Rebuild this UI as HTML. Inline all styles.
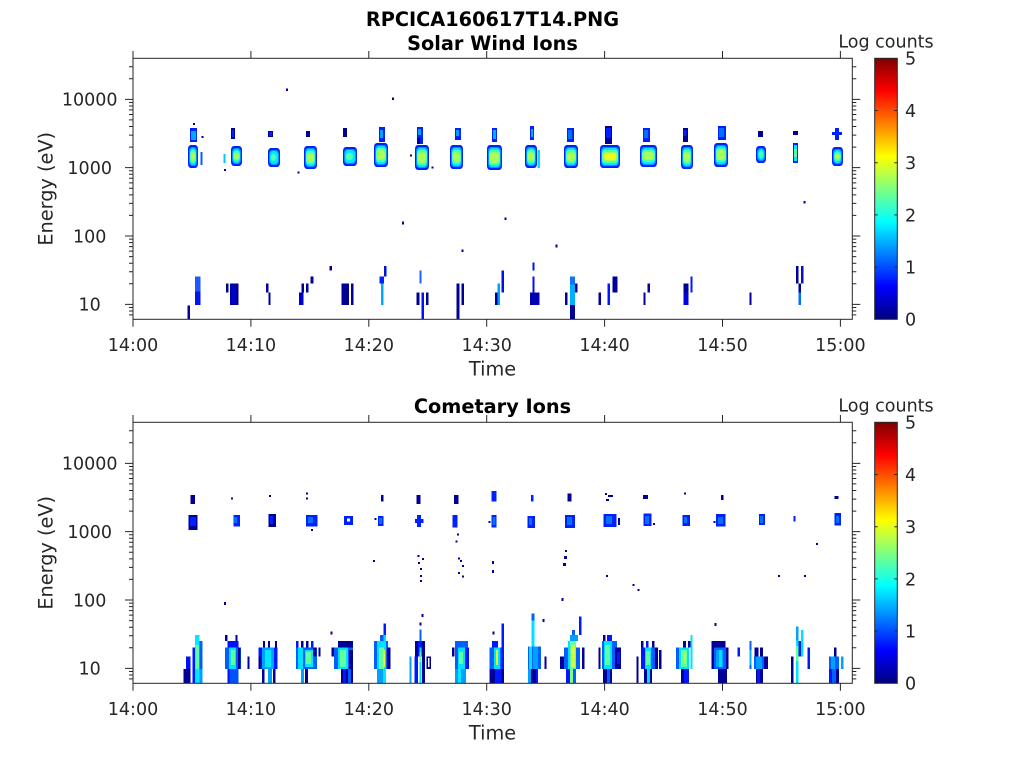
<!DOCTYPE html>
<html>
<head>
<meta charset="utf-8">
<style>
html,body{margin:0;padding:0;background:#fff;}
svg{display:block;}
text{font-family:"DejaVu Sans","Liberation Sans",sans-serif;}
g.rb rect{rx:3px;ry:4px;}
</style>
</head>
<body>
<svg width="1024" height="768" viewBox="0 0 1024 768" xmlns="http://www.w3.org/2000/svg">
<defs>
<linearGradient id="jet" x1="0" y1="1" x2="0" y2="0">
<stop offset="0" stop-color="#000080"/>
<stop offset="0.125" stop-color="#0000ff"/>
<stop offset="0.375" stop-color="#00ffff"/>
<stop offset="0.625" stop-color="#ffff00"/>
<stop offset="0.875" stop-color="#ff0000"/>
<stop offset="1" stop-color="#800000"/>
</linearGradient>
</defs>
<rect width="1024" height="768" fill="#fff"/>

<!-- ============ TOP PANEL DATA ============ -->
<g class="rb">
<rect x="188" y="145" width="10" height="23" fill="#0020ff"/><rect x="189" y="147" width="8" height="19" fill="#0090ff"/><rect x="190" y="148" width="6" height="17" fill="#00e8ff"/><rect x="190" y="150" width="6" height="13" fill="#50ffb0"/><rect x="191" y="152" width="4" height="9" fill="#a8ff58"/>
<rect x="231" y="146" width="11" height="20" fill="#0020ff"/><rect x="232" y="148" width="9" height="16" fill="#0090ff"/><rect x="233" y="149" width="7" height="14" fill="#00e8ff"/><rect x="233" y="151" width="7" height="10" fill="#50ffb0"/><rect x="234" y="153" width="5" height="6" fill="#a8ff58"/>
<rect x="268" y="148" width="12" height="19" fill="#0020ff"/><rect x="269" y="150" width="10" height="15" fill="#0090ff"/><rect x="270" y="151" width="8" height="13" fill="#00e8ff"/><rect x="271" y="154" width="5" height="7" fill="#50ffb0"/>
<rect x="304" y="146" width="13" height="23" fill="#0020ff"/><rect x="305" y="148" width="11" height="19" fill="#0090ff"/><rect x="306" y="149" width="9" height="17" fill="#00e8ff"/><rect x="306" y="151" width="9" height="13" fill="#50ffb0"/><rect x="307" y="153" width="7" height="9" fill="#a8ff58"/>
<rect x="343" y="147" width="14" height="19" fill="#0020ff"/><rect x="344" y="149" width="12" height="15" fill="#0090ff"/><rect x="345" y="150" width="10" height="13" fill="#00e8ff"/><rect x="346" y="153" width="7" height="7" fill="#50ffb0"/>
<rect x="374" y="143" width="14" height="24" fill="#0020ff"/><rect x="375" y="145" width="12" height="20" fill="#0090ff"/><rect x="376" y="146" width="10" height="18" fill="#00e8ff"/><rect x="376" y="148" width="10" height="14" fill="#50ffb0"/><rect x="377" y="150" width="8" height="10" fill="#a8ff58"/>
<rect x="415" y="145" width="14" height="25" fill="#0020ff"/><rect x="416" y="147" width="12" height="21" fill="#0090ff"/><rect x="417" y="148" width="10" height="19" fill="#00e8ff"/><rect x="417" y="150" width="10" height="15" fill="#50ffb0"/><rect x="418" y="152" width="8" height="11" fill="#a8ff58"/>
<rect x="450" y="145" width="13" height="24" fill="#0020ff"/><rect x="451" y="147" width="11" height="20" fill="#0090ff"/><rect x="452" y="148" width="9" height="18" fill="#00e8ff"/><rect x="452" y="150" width="9" height="14" fill="#50ffb0"/><rect x="453" y="152" width="7" height="10" fill="#a8ff58"/>
<rect x="487" y="145" width="15" height="25" fill="#0020ff"/><rect x="488" y="147" width="13" height="21" fill="#0090ff"/><rect x="489" y="148" width="11" height="19" fill="#00e8ff"/><rect x="489" y="150" width="11" height="15" fill="#50ffb0"/><rect x="490" y="152" width="9" height="11" fill="#a8ff58"/>
<rect x="525" y="145" width="12" height="23" fill="#0020ff"/><rect x="526" y="147" width="10" height="19" fill="#0090ff"/><rect x="527" y="148" width="8" height="17" fill="#00e8ff"/><rect x="527" y="150" width="8" height="13" fill="#50ffb0"/><rect x="528" y="152" width="6" height="9" fill="#a8ff58"/>
<rect x="564" y="145" width="14" height="23" fill="#0020ff"/><rect x="565" y="147" width="12" height="19" fill="#0090ff"/><rect x="566" y="148" width="10" height="17" fill="#00e8ff"/><rect x="566" y="150" width="10" height="13" fill="#50ffb0"/><rect x="567" y="152" width="8" height="9" fill="#a8ff58"/>
<rect x="600" y="145" width="20" height="23" fill="#0020ff"/><rect x="601" y="147" width="18" height="19" fill="#0090ff"/><rect x="602" y="148" width="16" height="17" fill="#00e8ff"/><rect x="602" y="150" width="16" height="13" fill="#50ffb0"/><rect x="603" y="152" width="14" height="9" fill="#a8ff58"/><rect x="604" y="153" width="12" height="7" fill="#e8ff20"/>
<rect x="640" y="145" width="17" height="22" fill="#0020ff"/><rect x="641" y="147" width="15" height="18" fill="#0090ff"/><rect x="642" y="148" width="13" height="16" fill="#00e8ff"/><rect x="642" y="150" width="13" height="12" fill="#50ffb0"/><rect x="643" y="152" width="11" height="8" fill="#a8ff58"/>
<rect x="681" y="145" width="12" height="24" fill="#0020ff"/><rect x="682" y="147" width="10" height="20" fill="#0090ff"/><rect x="683" y="148" width="8" height="18" fill="#00e8ff"/><rect x="683" y="150" width="8" height="14" fill="#50ffb0"/><rect x="684" y="152" width="6" height="10" fill="#a8ff58"/>
<rect x="714" y="143" width="14" height="24" fill="#0020ff"/><rect x="715" y="145" width="12" height="20" fill="#0090ff"/><rect x="716" y="146" width="10" height="18" fill="#00e8ff"/><rect x="716" y="148" width="10" height="14" fill="#50ffb0"/><rect x="717" y="150" width="8" height="10" fill="#a8ff58"/>
<rect x="756" y="146" width="10" height="17" fill="#0020ff"/><rect x="757" y="148" width="8" height="13" fill="#0090ff"/><rect x="758" y="149" width="6" height="11" fill="#00e8ff"/><rect x="759" y="151" width="4" height="7" fill="#50ffb0"/>
<rect x="832" y="147" width="11" height="19" fill="#0020ff"/><rect x="833" y="149" width="9" height="15" fill="#0090ff"/><rect x="834" y="150" width="7" height="13" fill="#00e8ff"/><rect x="834" y="152" width="7" height="9" fill="#50ffb0"/><rect x="835" y="154" width="5" height="5" fill="#a8ff58"/>
</g>
<g shape-rendering="crispEdges">
<rect x="200.7" y="152" width="2" height="13" fill="#0060ff"/>
<rect x="223.3" y="154" width="2.4" height="9" fill="#00c8ff"/>
<rect x="537.5" y="150" width="2.5" height="18" fill="#00e0ff"/>
<rect x="793" y="143" width="5" height="20" fill="#0020ff"/><rect x="794" y="145" width="3" height="16" fill="#00e8ff"/><rect x="794" y="149" width="3" height="8" fill="#50ffb0"/>
<!-- upper blobs -->
<rect x="190" y="128" width="7" height="14" fill="#0020ff"/><rect x="191" y="131" width="5" height="9" fill="#00a8ff"/>
<rect x="231" y="128" width="4" height="11" fill="#000096"/><rect x="232" y="130" width="2" height="7" fill="#0020ff"/>
<rect x="268" y="131" width="5" height="6" fill="#000096"/><rect x="269" y="132" width="3" height="4" fill="#0020ff"/>
<rect x="306" y="131" width="4" height="6" fill="#000096"/>
<rect x="343" y="128" width="4" height="9" fill="#000096"/>
<rect x="379" y="127" width="6" height="15" fill="#0020ff"/><rect x="380" y="130" width="3" height="8" fill="#00a0ff"/>
<rect x="417" y="127" width="6" height="17" fill="#0020ff"/><rect x="418" y="129" width="3" height="6" fill="#00a0ff"/><rect x="417" y="138" width="3" height="6" fill="#000096"/>
<rect x="455" y="128" width="6" height="12" fill="#0020ff"/><rect x="456" y="130" width="3" height="6" fill="#00a0ff"/>
<rect x="492" y="128" width="5" height="14" fill="#0020ff"/><rect x="493" y="130" width="3" height="9" fill="#00b0ff"/>
<rect x="530" y="126" width="4" height="14" fill="#0020ff"/><rect x="531" y="129" width="2" height="8" fill="#00b0ff"/>
<rect x="567" y="128" width="7" height="14" fill="#0020ff"/><rect x="568" y="130" width="4" height="9" fill="#0070ff"/>
<rect x="605" y="126" width="7" height="18" fill="#000096"/><rect x="606" y="128" width="5" height="10" fill="#0020ff"/>
<rect x="643" y="128" width="7" height="14" fill="#0020ff"/><rect x="644" y="130" width="4" height="8" fill="#0070ff"/>
<rect x="683" y="128" width="5" height="14" fill="#000096"/><rect x="683.5" y="130" width="3" height="6" fill="#0020ff"/>
<rect x="718" y="126" width="8" height="14" fill="#0020ff"/><rect x="719" y="128" width="5" height="9" fill="#0070ff"/>
<rect x="758" y="131" width="5" height="6" fill="#000096"/>
<rect x="793" y="131" width="5" height="4" fill="#000096"/>
<rect x="832" y="132" width="10" height="3" fill="#0020ff"/><rect x="835" y="128" width="4" height="12" fill="#0020ff"/>
<!-- dots -->
<g fill="#000096">
<rect x="193" y="123" width="2" height="2"/><rect x="201.7" y="136" width="2" height="2"/><rect x="286" y="88.5" width="2" height="2.5"/><rect x="392" y="97.5" width="2" height="2.5"/><rect x="224" y="169" width="2" height="2"/><rect x="297.7" y="171.5" width="2" height="2"/><rect x="410" y="154.5" width="2" height="2"/><rect x="431.7" y="166.5" width="2" height="2"/><rect x="402" y="221.5" width="2" height="3"/><rect x="504.5" y="217.5" width="2" height="2.5"/><rect x="461.5" y="249.5" width="2" height="2.5"/><rect x="555.5" y="244.5" width="2" height="3"/><rect x="803.5" y="201" width="2" height="2.5"/>
</g>
<!-- low energy -->
<rect x="187.7" y="305.7" width="2.3" height="13.6" fill="#000096"/>
<rect x="195" y="276.7" width="5.7" height="15" fill="#2058ff"/><rect x="195" y="291.7" width="5.7" height="13.3" fill="#0018f0"/>
<rect x="226" y="283.3" width="2.3" height="9" fill="#000096"/>
<rect x="230" y="283.3" width="8.3" height="21.7" fill="#000096"/><rect x="231.5" y="285" width="4.5" height="19" fill="#0000d0"/>
<rect x="266" y="283.3" width="2.3" height="9" fill="#000096"/><rect x="268.3" y="292.3" width="2.4" height="12.7" fill="#000096"/>
<rect x="299" y="292.3" width="4.3" height="12.7" fill="#0000c8"/><rect x="301.7" y="283.3" width="2.3" height="9" fill="#000096"/><rect x="306" y="283.3" width="2.3" height="9" fill="#000096"/><rect x="310.7" y="276.7" width="2.6" height="6.6" fill="#000096"/>
<rect x="329.3" y="266" width="2.7" height="4.7" fill="#000096"/>
<rect x="341.7" y="283.3" width="7.3" height="21.7" fill="#000096"/><rect x="351" y="283.3" width="2.3" height="21.7" fill="#000096"/>
<rect x="379.3" y="276.7" width="4.7" height="6.6" fill="#0020ff"/><rect x="381" y="283.3" width="2.7" height="21.7" fill="#00a8ff"/><rect x="384" y="266" width="2.7" height="10.7" fill="#0010e0"/>
<rect x="419.3" y="270.7" width="2.4" height="12.6" fill="#2060ff"/>
<rect x="416.7" y="292.3" width="2.6" height="12.7" fill="#000096"/><rect x="421.7" y="292.3" width="2.3" height="26.7" fill="#0010ff"/><rect x="426" y="292.3" width="2.3" height="12.7" fill="#000096"/>
<rect x="456.7" y="283.3" width="2.6" height="35.7" fill="#000096"/><rect x="461.7" y="283.3" width="2.3" height="21.7" fill="#000096"/>
<rect x="495" y="292.3" width="2.3" height="12.7" fill="#000096"/><rect x="497.3" y="283.3" width="2.7" height="21.7" fill="#00a0ff"/><rect x="501.7" y="270.7" width="2.3" height="21.6" fill="#0010e0"/>
<rect x="532.3" y="262.3" width="2" height="8.4" fill="#0010ff"/><rect x="532.3" y="276.7" width="2" height="15.6" fill="#0010ff"/><rect x="530" y="292.3" width="9.3" height="12.7" fill="#0000b0"/>
<rect x="565" y="292.3" width="2.7" height="12.7" fill="#000096"/><rect x="570" y="276.7" width="5" height="8" fill="#1070ff"/><rect x="570" y="284.7" width="5" height="20.3" fill="#00b0ff"/><rect x="570" y="305" width="5" height="14.3" fill="#000096"/><rect x="575" y="283.3" width="2.3" height="9" fill="#000096"/>
<rect x="598.3" y="292.3" width="2.7" height="12.7" fill="#000096"/>
<rect x="607.7" y="283.3" width="2.3" height="21.7" fill="#0018ff"/><rect x="612.3" y="276.7" width="5" height="15.6" fill="#000096"/>
<rect x="643.3" y="292.3" width="2.4" height="12.7" fill="#000096"/><rect x="647.7" y="283.3" width="2.3" height="9" fill="#000096"/>
<rect x="683.3" y="283.3" width="5" height="9" fill="#000096"/><rect x="683.3" y="292.3" width="5" height="12.7" fill="#0000e0"/><rect x="690.3" y="276.7" width="2.4" height="15.6" fill="#0018ff"/>
<rect x="749.3" y="292.3" width="2.4" height="12.7" fill="#000096"/>
<rect x="796" y="266" width="2.3" height="17.3" fill="#000096"/><rect x="801" y="266" width="2.3" height="17.3" fill="#0010c0"/><rect x="798.3" y="283.3" width="2.7" height="9" fill="#000096"/><rect x="798.3" y="292.3" width="2.7" height="12.7" fill="#0070ff"/>
</g>

<!-- ============ BOTTOM PANEL DATA ============ -->
<g shape-rendering="crispEdges">
<rect x="190.7" y="495" width="4.3" height="9" fill="#000096"/><rect x="188.3" y="515" width="9" height="15" fill="#000096"/><rect x="190" y="517" width="6" height="9" fill="#0020ff"/>
<rect x="233.3" y="515" width="6.7" height="11.7" fill="#0020ff"/><rect x="234" y="517" width="3" height="6" fill="#0070ff"/>
<rect x="268.3" y="514" width="7.7" height="13" fill="#000096"/><rect x="270" y="516" width="3" height="8" fill="#0020ff"/>
<rect x="306" y="515" width="11.3" height="11.7" fill="#0020ff"/><rect x="308" y="517" width="5" height="6" fill="#0070ff"/>
<rect x="344" y="516" width="9" height="9" fill="#0020ff"/><rect x="347" y="518.5" width="3" height="3" fill="#fff"/>
<rect x="381" y="495" width="2.3" height="6.7" fill="#000096"/><rect x="378" y="516" width="5.3" height="10" fill="#0020ff"/><rect x="379" y="518" width="3" height="6" fill="#0070ff"/>
<rect x="416.7" y="495" width="4" height="9" fill="#000096"/><rect x="415" y="519" width="8.3" height="4" fill="#0020ff"/><rect x="417" y="515" width="4" height="12" fill="#0020ff"/>
<rect x="454" y="495" width="4.7" height="9" fill="#000096"/><rect x="452.7" y="515" width="4.6" height="12.3" fill="#0020ff"/>
<rect x="491.7" y="491" width="5" height="10.7" fill="#0020ff"/><rect x="491.7" y="515" width="5" height="12.3" fill="#0020ff"/><rect x="492.5" y="517" width="3" height="8" fill="#0070ff"/>
<rect x="531" y="495" width="2.3" height="6.7" fill="#0020ff"/><rect x="527.7" y="516" width="7.3" height="12" fill="#0020ff"/><rect x="529" y="518" width="3" height="7" fill="#0070ff"/>
<rect x="567.7" y="493.3" width="4" height="8.3" fill="#000096"/><rect x="565" y="515" width="10" height="13" fill="#0020ff"/><rect x="567" y="517" width="5" height="8" fill="#0070ff"/>
<rect x="603.3" y="514" width="13" height="13" fill="#0020ff"/><rect x="606" y="516" width="6" height="8" fill="#0070ff"/><rect x="618" y="518" width="2" height="7" fill="#000096"/>
<rect x="643" y="495" width="5" height="4" fill="#000096"/><rect x="643.3" y="513.3" width="8" height="12.7" fill="#0020ff"/><rect x="645" y="516" width="4" height="8" fill="#0070ff"/>
<rect x="682.7" y="515" width="7.3" height="11" fill="#0020ff"/><rect x="684" y="517" width="3" height="6" fill="#0070ff"/>
<rect x="721" y="495" width="2.3" height="5" fill="#000096"/><rect x="716" y="514" width="9.7" height="12.7" fill="#0020ff"/><rect x="718" y="517" width="5" height="7" fill="#0070ff"/>
<rect x="759" y="514" width="6" height="11" fill="#0020ff"/><rect x="760" y="516" width="3" height="7" fill="#0070ff"/>
<rect x="793.3" y="516" width="2.4" height="5.7" fill="#0020ff"/>
<rect x="834.3" y="496" width="4" height="3" fill="#000096"/><rect x="834.3" y="513" width="6.7" height="12.7" fill="#0020ff"/><rect x="836" y="516" width="3" height="7" fill="#0070ff"/>
<g fill="#000096">
<rect x="231" y="497.5" width="2" height="2"/><rect x="269" y="495" width="2" height="2"/><rect x="306" y="492.5" width="2" height="2"/><rect x="306" y="497.5" width="2" height="2"/><rect x="311" y="529" width="2" height="2"/><rect x="374.7" y="518" width="2" height="2"/><rect x="373" y="560" width="2" height="2"/>
<rect x="417.5" y="555" width="2" height="2"/><rect x="422" y="558" width="2" height="2"/><rect x="418" y="562" width="2" height="2"/><rect x="420" y="568" width="2" height="2"/><rect x="420" y="575" width="2" height="2"/><rect x="420" y="580" width="2" height="2"/>
<rect x="457" y="533.5" width="2" height="2"/><rect x="455.5" y="540.5" width="2" height="2"/><rect x="458" y="557.5" width="2" height="2"/><rect x="460" y="560" width="2" height="2"/><rect x="462" y="565" width="2" height="2"/><rect x="458" y="572" width="2" height="2"/><rect x="462" y="575.5" width="2" height="2"/>
<rect x="488.3" y="521" width="2" height="2"/><rect x="492" y="561" width="2" height="3"/><rect x="492" y="570" width="2" height="3"/>
<rect x="605" y="493" width="2" height="2"/><rect x="608" y="495" width="5" height="2"/><rect x="606" y="499" width="3" height="2"/>
<rect x="565" y="550" width="2" height="2"/><rect x="564" y="556" width="3" height="3"/><rect x="563" y="563" width="3" height="3"/>
<rect x="653" y="523" width="2" height="2"/><rect x="684" y="492.5" width="2" height="2"/><rect x="713.3" y="521" width="2" height="2"/>
<rect x="816" y="543" width="2" height="2"/><rect x="778" y="575" width="2" height="2"/><rect x="804" y="575" width="2" height="2"/><rect x="606" y="575" width="2" height="2"/><rect x="632.7" y="584" width="2" height="2"/><rect x="637.3" y="589" width="2" height="2"/>
<rect x="224" y="602" width="2" height="3"/><rect x="330.7" y="631.5" width="2" height="3"/><rect x="492.7" y="631.5" width="2" height="3"/><rect x="421.7" y="614" width="2" height="3"/><rect x="419.3" y="622.5" width="2" height="3"/><rect x="542.7" y="619" width="2" height="3"/><rect x="561.7" y="598" width="2" height="3"/><rect x="714.5" y="623" width="2" height="3"/>
</g>
<!-- C1 -->
<rect x="183.3" y="669" width="2.7" height="14.3" fill="#000096"/>
<rect x="186" y="656.7" width="4.7" height="12.3" fill="#0010ff"/><rect x="186" y="669" width="4.7" height="14.3" fill="#000096"/>
<rect x="192.7" y="647.7" width="2.3" height="35.6" fill="#0018ff"/>
<rect x="195" y="635" width="4.3" height="48.3" fill="#00e8ff"/><rect x="195.5" y="645" width="3.5" height="24" fill="#60ffa0"/>
<rect x="199.3" y="641" width="3.4" height="28" fill="#0060ff"/><rect x="199.3" y="669" width="3.4" height="14.3" fill="#00a0ff"/>
<!-- C2 -->
<rect x="225" y="635" width="2.3" height="6" fill="#000096"/><rect x="235.3" y="635" width="2.3" height="6" fill="#000096"/>
<rect x="227.3" y="641" width="11" height="6.7" fill="#0010ff"/>
<rect x="225" y="647.7" width="16" height="21.3" fill="#0060ff"/><rect x="229" y="647.7" width="7" height="21.3" fill="#00e0ff"/><rect x="231" y="650" width="4" height="15" fill="#60ffa0"/><rect x="238" y="647.7" width="2.7" height="21.3" fill="#000096"/>
<rect x="227.3" y="669" width="11" height="14.3" fill="#0050ff"/><rect x="227.3" y="669" width="2" height="14.3" fill="#0010ff"/>
<rect x="247.3" y="656.7" width="2" height="12.3" fill="#000096"/>
<!-- C3 -->
<rect x="263" y="641" width="2" height="6.7" fill="#000096"/><rect x="268" y="641" width="2" height="6.7" fill="#000096"/><rect x="275" y="641" width="2" height="6.7" fill="#000096"/>
<rect x="258.3" y="647.7" width="19" height="21.3" fill="#0018ff"/><rect x="262" y="647.7" width="12" height="21.3" fill="#00a0ff"/><rect x="265" y="650" width="6" height="17" fill="#00e8ff"/>
<rect x="258.3" y="656.7" width="2.3" height="12.3" fill="#000096"/>
<rect x="262" y="669" width="2.3" height="14.3" fill="#000096"/><rect x="268" y="669" width="4" height="14.3" fill="#00a0ff"/><rect x="273" y="669" width="2.7" height="14.3" fill="#000096"/>
<!-- C4 -->
<rect x="296" y="641" width="2.3" height="6.7" fill="#0018ff"/><rect x="301" y="641" width="2.3" height="6.7" fill="#000096"/><rect x="306" y="641" width="2.3" height="6.7" fill="#000096"/><rect x="311" y="641" width="2.3" height="6.7" fill="#0018ff"/>
<rect x="296" y="647.7" width="21" height="21.3" fill="#0060ff"/><rect x="298" y="647.7" width="5" height="21.3" fill="#00e0ff"/><rect x="305" y="650" width="8" height="17" fill="#00e8ff"/><rect x="306" y="652" width="5" height="12" fill="#60ffa0"/><rect x="313" y="647.7" width="3.7" height="9" fill="#000096"/>
<rect x="301" y="669" width="3" height="14.3" fill="#00a0ff"/><rect x="305" y="669" width="3" height="14.3" fill="#000096"/>
<rect x="318.3" y="647.7" width="2" height="9" fill="#000096"/>
<!-- C5 -->
<rect x="338" y="641" width="15" height="6.7" fill="#000096"/>
<rect x="331.7" y="647.7" width="2.3" height="9" fill="#000096"/>
<rect x="334" y="647.7" width="19" height="21.3" fill="#0060ff"/><rect x="338" y="647.7" width="10" height="21.3" fill="#00e0ff"/><rect x="340" y="650" width="6" height="17" fill="#60ffa0"/><rect x="349" y="650" width="4" height="19" fill="#000096"/>
<rect x="341" y="669" width="12" height="14.3" fill="#000096"/><rect x="343" y="669" width="3" height="14.3" fill="#0018ff"/><rect x="348" y="669" width="3" height="14.3" fill="#0060ff"/>
<!-- C6 -->
<rect x="383.3" y="623.3" width="2.7" height="11.7" fill="#0018ff"/>
<rect x="380" y="635" width="6" height="6" fill="#0060ff"/><rect x="383.3" y="635" width="2.7" height="6" fill="#00e0ff"/>
<rect x="374" y="641" width="14" height="28" fill="#0060ff"/><rect x="377" y="641" width="9" height="28" fill="#00e0ff"/><rect x="379" y="647.7" width="5" height="21.3" fill="#60ffa0"/><rect x="383" y="650" width="2" height="17" fill="#e0ff30"/><rect x="387" y="647.7" width="3.7" height="21.3" fill="#000096"/>
<rect x="377" y="669" width="9" height="14.3" fill="#00a0ff"/><rect x="383" y="669" width="3" height="14.3" fill="#00e8ff"/>
<!-- C7 -->
<rect x="419.3" y="629.3" width="2.4" height="11.7" fill="#0060ff"/>
<rect x="415" y="641" width="3" height="15.7" fill="#000096"/><rect x="418" y="641" width="4" height="15.7" fill="#0018ff"/><rect x="422" y="641" width="3" height="15.7" fill="#000096"/>
<rect x="409.3" y="656.7" width="2.3" height="26.6" fill="#00a0ff"/>
<rect x="414.7" y="656.7" width="3.3" height="26.6" fill="#0018ff"/><rect x="419.3" y="647.7" width="2.4" height="35.6" fill="#00e0ff"/><rect x="419.3" y="652" width="2.4" height="10" fill="#60ffa0"/><rect x="422" y="656.7" width="3" height="26.6" fill="#000096"/><rect x="426.7" y="656.7" width="4.3" height="12.3" fill="#000096"/><rect x="428" y="658" width="1.7" height="9" fill="#fff"/>
<!-- C8 -->
<rect x="452" y="647.7" width="2.3" height="9" fill="#000096"/>
<rect x="455" y="641" width="13" height="28" fill="#0060ff"/><rect x="458" y="647.7" width="7" height="21.3" fill="#00e0ff"/><rect x="459" y="652" width="4" height="12" fill="#60ffa0"/><rect x="465" y="647.7" width="4" height="21.3" fill="#0018ff"/>
<rect x="455" y="669" width="11" height="14.3" fill="#00a0ff"/><rect x="458" y="669" width="3" height="14.3" fill="#00e8ff"/>
<!-- C9 -->
<rect x="501.7" y="623.3" width="2.3" height="60" fill="#0018ff"/><rect x="501.7" y="669" width="2.3" height="14.3" fill="#000096"/>
<rect x="492" y="641" width="6" height="6.7" fill="#0018ff"/>
<rect x="489.3" y="647.7" width="12" height="21.3" fill="#0060ff"/><rect x="494" y="647.7" width="6" height="21.3" fill="#00e0ff"/><rect x="496" y="650" width="2" height="15" fill="#e0ff30"/>
<rect x="489.3" y="669" width="12" height="14.3" fill="#0018ff"/><rect x="490" y="669" width="5" height="14.3" fill="#000096"/>
<!-- C10 -->
<rect x="531.7" y="613.3" width="2.6" height="7" fill="#0060ff"/><rect x="531.7" y="620.3" width="2.6" height="26.4" fill="#00e0ff"/>
<rect x="528" y="646.7" width="13" height="22.3" fill="#0060ff"/><rect x="529" y="646.7" width="3" height="22.3" fill="#00e0ff"/><rect x="533" y="646.7" width="5" height="22.3" fill="#00a0ff"/>
<rect x="544.3" y="656.7" width="2.4" height="12.3" fill="#000096"/>
<rect x="528" y="669" width="3" height="14.3" fill="#00a0ff"/><rect x="531" y="669" width="5" height="14.3" fill="#000096"/><rect x="536" y="669" width="2" height="14.3" fill="#0018ff"/>
<!-- C11 -->
<rect x="579" y="616.7" width="2.7" height="18.3" fill="#0018ff"/>
<rect x="572" y="630" width="3" height="5" fill="#0060ff"/><rect x="570" y="635" width="8" height="6" fill="#00a0ff"/>
<rect x="560" y="656.7" width="4" height="12.3" fill="#000096"/>
<rect x="564" y="647.7" width="16" height="21.3" fill="#0060ff"/><rect x="568" y="641" width="8" height="28" fill="#00e0ff"/><rect x="570" y="641" width="6" height="28" fill="#60ffa0"/><rect x="571" y="645" width="4" height="22" fill="#d0ff40"/>
<rect x="582" y="647.7" width="2.7" height="21.3" fill="#000096"/>
<rect x="566" y="669" width="4" height="14.3" fill="#0018ff"/><rect x="570" y="669" width="3" height="14.3" fill="#80ff80"/><rect x="573" y="669" width="3" height="14.3" fill="#0060ff"/>
<!-- C12 -->
<rect x="603" y="635" width="2.4" height="6" fill="#000096"/><rect x="607" y="635" width="5" height="6" fill="#0018ff"/><rect x="614" y="641" width="2.7" height="6.7" fill="#000096"/>
<rect x="598.3" y="647.7" width="2.4" height="21.3" fill="#000096"/>
<rect x="602" y="641" width="15" height="28" fill="#0060ff"/><rect x="604" y="641" width="8" height="28" fill="#00e0ff"/><rect x="605" y="645" width="5" height="20" fill="#60ffa0"/><rect x="615" y="647.7" width="6" height="21.3" fill="#000096"/><rect x="617" y="652" width="3" height="12" fill="#0018ff"/>
<rect x="603" y="669" width="4" height="14.3" fill="#000096"/><rect x="607" y="669" width="3" height="14.3" fill="#0060ff"/><rect x="610" y="669" width="2" height="14.3" fill="#000096"/>
<!-- C13 -->
<rect x="636.7" y="656.7" width="2" height="26.6" fill="#000096"/>
<rect x="641" y="641" width="2.4" height="6.7" fill="#000096"/><rect x="646" y="641" width="2.4" height="6.7" fill="#0018ff"/><rect x="652" y="641" width="2.4" height="6.7" fill="#000096"/>
<rect x="641" y="647.7" width="4" height="21.3" fill="#0018ff"/><rect x="645" y="647.7" width="6" height="21.3" fill="#00e0ff"/><rect x="646" y="651" width="4" height="14" fill="#60ffa0"/><rect x="651" y="647.7" width="4" height="21.3" fill="#0060ff"/><rect x="655" y="647.7" width="3" height="21.3" fill="#000096"/><rect x="659" y="650" width="2.5" height="19" fill="#000096"/>
<rect x="644" y="669" width="3" height="14.3" fill="#000096"/><rect x="647" y="669" width="3" height="14.3" fill="#00e0ff"/><rect x="650" y="669" width="2" height="14.3" fill="#000096"/>
<!-- C14 -->
<rect x="683" y="641" width="3" height="6.7" fill="#000096"/><rect x="688" y="641" width="2.4" height="6.7" fill="#000096"/>
<rect x="690.3" y="635" width="2.4" height="34" fill="#00e0ff"/>
<rect x="676" y="647.7" width="3" height="21.3" fill="#0060ff"/><rect x="679" y="647.7" width="10" height="21.3" fill="#00e0ff"/><rect x="681" y="650" width="6" height="17" fill="#60ffa0"/><rect x="684" y="652" width="2" height="12" fill="#a8ff58"/>
<rect x="681" y="669" width="3" height="14.3" fill="#000096"/><rect x="684" y="669" width="5" height="14.3" fill="#0018ff"/>
<!-- C15 -->
<rect x="711.7" y="641" width="14" height="6.7" fill="#000096"/>
<rect x="711.7" y="647.7" width="17" height="21.3" fill="#000096"/><rect x="714" y="647.7" width="12" height="21.3" fill="#0060ff"/><rect x="716" y="650" width="7" height="17" fill="#00a0ff"/><rect x="719" y="650" width="3" height="17" fill="#00e0ff"/>
<rect x="718" y="669" width="9" height="14.3" fill="#000096"/>
<!-- C16 -->
<rect x="737.7" y="647.7" width="2.3" height="9" fill="#0018ff"/>
<rect x="749.3" y="641" width="2.4" height="28" fill="#0060ff"/><rect x="749.3" y="650" width="2.4" height="15" fill="#00b0ff"/>
<rect x="754.3" y="647.7" width="4" height="9" fill="#000096"/><rect x="760" y="647.7" width="3" height="9" fill="#000096"/>
<rect x="754" y="656.7" width="14" height="12.3" fill="#0060ff"/><rect x="756" y="656.7" width="6" height="12.3" fill="#00a0ff"/><rect x="764" y="656.7" width="4" height="12.3" fill="#000096"/>
<rect x="756" y="669" width="7" height="14.3" fill="#000096"/><rect x="757" y="669" width="3" height="14.3" fill="#0018ff"/>
<!-- C17 -->
<rect x="796" y="626.7" width="2.3" height="14" fill="#00a0ff"/><rect x="796" y="640.7" width="2.3" height="42.6" fill="#00e0ff"/><rect x="796" y="646" width="2.3" height="15" fill="#60ffa0"/>
<rect x="801" y="630" width="2.3" height="26.7" fill="#00e0ff"/><rect x="798.3" y="641" width="2.7" height="15.7" fill="#0018ff"/>
<rect x="791" y="656.7" width="2.3" height="26.6" fill="#000096"/>
<rect x="807.7" y="647.7" width="2.3" height="21.3" fill="#0018ff"/>
<!-- C18 -->
<rect x="834" y="647.7" width="2.4" height="9" fill="#000096"/>
<rect x="829" y="656.7" width="10" height="12.3" fill="#0060ff"/><rect x="831" y="656.7" width="4" height="12.3" fill="#00a0ff"/>
<rect x="829" y="669" width="3" height="14.3" fill="#0018ff"/><rect x="832" y="669" width="4" height="14.3" fill="#0060ff"/><rect x="836" y="669" width="3" height="14.3" fill="#000096"/>
<rect x="841" y="656.7" width="2.3" height="12.3" fill="#00a0ff"/>
</g>

<!-- ============ AXES (TOP) ============ -->
<g fill="none" stroke="#262626" stroke-width="1">
<rect x="133" y="58.3" width="719.3" height="261"/>
<path d="M125 304.33H133M125 236H133M125 167.67H133M125 99.34H133"/>
<path d="M129 314.9H133M129 310.95H133M129 307.46H133M129 283.76H133M129 271.73H133M129 263.19H133M129 256.57H133M129 251.16H133M129 246.58H133M129 242.62H133M129 239.13H133M129 215.43H133M129 203.4H133M129 194.86H133M129 188.24H133M129 182.83H133M129 178.25H133M129 174.29H133M129 170.8H133M129 147.1H133M129 135.07H133M129 126.53H133M129 119.91H133M129 114.5H133M129 109.92H133M129 105.96H133M129 102.47H133M129 78.77H133M129 66.74H133"/>
<path d="M852.3 304.33H860.3M852.3 236H860.3M852.3 167.67H860.3M852.3 99.34H860.3"/>
<path d="M852.3 314.9H856.3M852.3 310.95H856.3M852.3 307.46H856.3M852.3 283.76H856.3M852.3 271.73H856.3M852.3 263.19H856.3M852.3 256.57H856.3M852.3 251.16H856.3M852.3 246.58H856.3M852.3 242.62H856.3M852.3 239.13H856.3M852.3 215.43H856.3M852.3 203.4H856.3M852.3 194.86H856.3M852.3 188.24H856.3M852.3 182.83H856.3M852.3 178.25H856.3M852.3 174.29H856.3M852.3 170.8H856.3M852.3 147.1H856.3M852.3 135.07H856.3M852.3 126.53H856.3M852.3 119.91H856.3M852.3 114.5H856.3M852.3 109.92H856.3M852.3 105.96H856.3M852.3 102.47H856.3M852.3 78.77H856.3M852.3 66.74H856.3"/>
<path d="M133 319.3V326.7M250.9 319.3V326.7M368.8 319.3V326.7M486.7 319.3V326.7M604.6 319.3V326.7M722.5 319.3V326.7M840.4 319.3V326.7"/>
<path d="M133 58.3V51M250.9 58.3V51M368.8 58.3V51M486.7 58.3V51M604.6 58.3V51M722.5 58.3V51M840.4 58.3V51"/>
</g>
<rect x="874.7" y="58.3" width="22.6" height="261" fill="url(#jet)" stroke="#262626" stroke-width="1"/>
<path d="M894.3 267.1H897.3M894.3 214.9H897.3M894.3 162.7H897.3M894.3 110.5H897.3M877.7 267.1H874.7M877.7 214.9H874.7M877.7 162.7H874.7M877.7 110.5H874.7" stroke="#262626" stroke-width="1" fill="none"/>

<g fill="#262626" font-size="17.5">
<text x="89.7" y="310.7" text-anchor="middle">10</text>
<text x="89.7" y="242.4" text-anchor="middle">100</text>
<text x="89.7" y="174.1" text-anchor="middle">1000</text>
<text x="89.7" y="105.7" text-anchor="middle">10000</text>
<text x="133" y="351" text-anchor="middle">14:00</text>
<text x="250.9" y="351" text-anchor="middle">14:10</text>
<text x="368.8" y="351" text-anchor="middle">14:20</text>
<text x="486.7" y="351" text-anchor="middle">14:30</text>
<text x="604.6" y="351" text-anchor="middle">14:40</text>
<text x="722.5" y="351" text-anchor="middle">14:50</text>
<text x="840.4" y="351" text-anchor="middle">15:00</text>
<text x="905" y="325.7">0</text>
<text x="905" y="273.5">1</text>
<text x="905" y="221.3">2</text>
<text x="905" y="169.1">3</text>
<text x="905" y="116.9">4</text>
<text x="905" y="64.7">5</text>
<text x="886" y="47.3" text-anchor="middle">Log counts</text>
</g>
<g fill="#262626" font-size="19.3">
<text x="492.5" y="375.7" text-anchor="middle">Time</text>
<text transform="translate(52.7,188.8) rotate(-90)" text-anchor="middle">Energy (eV)</text>
</g>
<g fill="#000" font-size="19.3" font-weight="bold">
<text x="492.5" y="26" text-anchor="middle">RPCICA160617T14.PNG</text>
<text x="492.5" y="50" text-anchor="middle">Solar Wind Ions</text>
</g>

<!-- ============ AXES (BOTTOM) ============ -->
<g transform="translate(0,364)">
<g fill="none" stroke="#262626" stroke-width="1">
<rect x="133" y="58.3" width="719.3" height="261"/>
<path d="M125 304.33H133M125 236H133M125 167.67H133M125 99.34H133"/>
<path d="M129 314.9H133M129 310.95H133M129 307.46H133M129 283.76H133M129 271.73H133M129 263.19H133M129 256.57H133M129 251.16H133M129 246.58H133M129 242.62H133M129 239.13H133M129 215.43H133M129 203.4H133M129 194.86H133M129 188.24H133M129 182.83H133M129 178.25H133M129 174.29H133M129 170.8H133M129 147.1H133M129 135.07H133M129 126.53H133M129 119.91H133M129 114.5H133M129 109.92H133M129 105.96H133M129 102.47H133M129 78.77H133M129 66.74H133"/>
<path d="M852.3 304.33H860.3M852.3 236H860.3M852.3 167.67H860.3M852.3 99.34H860.3"/>
<path d="M852.3 314.9H856.3M852.3 310.95H856.3M852.3 307.46H856.3M852.3 283.76H856.3M852.3 271.73H856.3M852.3 263.19H856.3M852.3 256.57H856.3M852.3 251.16H856.3M852.3 246.58H856.3M852.3 242.62H856.3M852.3 239.13H856.3M852.3 215.43H856.3M852.3 203.4H856.3M852.3 194.86H856.3M852.3 188.24H856.3M852.3 182.83H856.3M852.3 178.25H856.3M852.3 174.29H856.3M852.3 170.8H856.3M852.3 147.1H856.3M852.3 135.07H856.3M852.3 126.53H856.3M852.3 119.91H856.3M852.3 114.5H856.3M852.3 109.92H856.3M852.3 105.96H856.3M852.3 102.47H856.3M852.3 78.77H856.3M852.3 66.74H856.3"/>
<path d="M133 319.3V326.7M250.9 319.3V326.7M368.8 319.3V326.7M486.7 319.3V326.7M604.6 319.3V326.7M722.5 319.3V326.7M840.4 319.3V326.7"/>
<path d="M133 58.3V51M250.9 58.3V51M368.8 58.3V51M486.7 58.3V51M604.6 58.3V51M722.5 58.3V51M840.4 58.3V51"/>
</g>
<rect x="874.7" y="58.3" width="22.6" height="261" fill="url(#jet)" stroke="#262626" stroke-width="1"/>
<path d="M894.3 267.1H897.3M894.3 214.9H897.3M894.3 162.7H897.3M894.3 110.5H897.3M877.7 267.1H874.7M877.7 214.9H874.7M877.7 162.7H874.7M877.7 110.5H874.7" stroke="#262626" stroke-width="1" fill="none"/>
<g fill="#262626" font-size="17.5">
<text x="89.7" y="310.7" text-anchor="middle">10</text>
<text x="89.7" y="242.4" text-anchor="middle">100</text>
<text x="89.7" y="174.1" text-anchor="middle">1000</text>
<text x="89.7" y="105.7" text-anchor="middle">10000</text>
<text x="133" y="351" text-anchor="middle">14:00</text>
<text x="250.9" y="351" text-anchor="middle">14:10</text>
<text x="368.8" y="351" text-anchor="middle">14:20</text>
<text x="486.7" y="351" text-anchor="middle">14:30</text>
<text x="604.6" y="351" text-anchor="middle">14:40</text>
<text x="722.5" y="351" text-anchor="middle">14:50</text>
<text x="840.4" y="351" text-anchor="middle">15:00</text>
<text x="905" y="325.7">0</text>
<text x="905" y="273.5">1</text>
<text x="905" y="221.3">2</text>
<text x="905" y="169.1">3</text>
<text x="905" y="116.9">4</text>
<text x="905" y="64.7">5</text>
<text x="886" y="47.3" text-anchor="middle">Log counts</text>
</g>
<g fill="#262626" font-size="19.3">
<text x="492.5" y="375.7" text-anchor="middle">Time</text>
<text transform="translate(52.7,188.8) rotate(-90)" text-anchor="middle">Energy (eV)</text>
</g>
<g fill="#000" font-size="19.3" font-weight="bold">
<text x="492.5" y="49" text-anchor="middle">Cometary Ions</text>
</g>
</g>
</svg>
</body>
</html>
